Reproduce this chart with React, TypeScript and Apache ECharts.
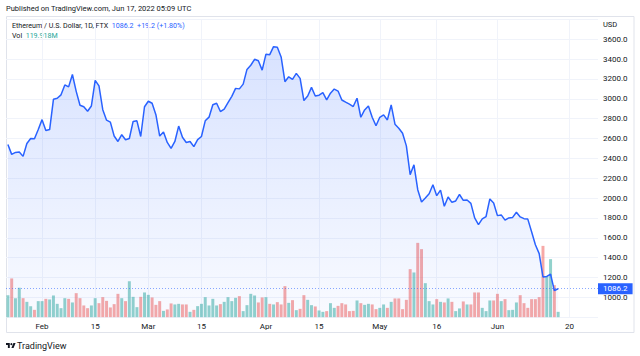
import React, { useEffect, useRef } from "react";
import * as echarts from "echarts";

// ---- data ----
const startDate = "2022-01-23";
const dayCount = 156; // Jan 23 .. Jun 27 (axis span)

const closes: number[] = [
  // Jan 23-31
  2540, 2440, 2460, 2465, 2420, 2550, 2600, 2598, 2690,
  // Feb
  2790, 2680, 2690, 2995, 3005, 3040, 3140, 3120, 3245, 3075,
  2935, 2920, 2875, 2928, 3185, 3130, 2890, 2785, 2765, 2625,
  2570, 2638, 2588, 2600, 2772, 2778, 2620, 2920,
  // Mar
  2975, 2955, 2840, 2625, 2665, 2560, 2500, 2570, 2725, 2612,
  2560, 2570, 2518, 2588, 2620, 2778, 2815, 2940, 2955, 2872,
  2897, 2962, 3025, 3105, 3100, 3148, 3296, 3338, 3398, 3383, 3289,
  // Apr
  3450, 3445, 3525, 3520, 3422, 3172, 3222, 3196, 3256, 3206,
  2982, 3028, 3115, 3028, 3036, 3062, 2990, 3056, 3098, 3078,
  2988, 2966, 2946, 2922, 3006, 2814, 2888, 2928, 2814, 2728,
  // May
  2814, 2838, 2787, 2938, 2744, 2704, 2653, 2526, 2236, 2335,
  2084, 1961, 2001, 2044, 2134, 2024, 2080, 1917, 2011, 1957,
  1971, 2036, 1977, 1980, 1946, 1800, 1733, 1790, 1814, 1991, 1951,
  // Jun 1-17
  1823, 1830, 1777, 1800, 1805, 1857, 1810, 1792, 1788, 1660,
  1530, 1440, 1205, 1210, 1232, 1067, 1086.2,
];

// volume in millions
const volumes: number[] = [
  497, 875, 429, 662, 429, 346, 249, 165, 362, 362,
  414, 400, 490, 301, 203, 429, 414, 332, 542, 429,
  264, 203, 264, 429, 316, 452, 368, 219, 294, 527,
  429, 362, 814, 459, 226, 459, 558, 504, 445, 278,
  362, 142, 174, 310, 287, 301, 287, 287, 120, 165,
  249, 301, 452, 264, 414, 264, 294, 346, 452, 362,
  436, 475, 136, 271, 527, 490, 332, 445, 452, 301,
  287, 339, 287, 701, 323, 384, 158, 188,
  497, 391, 271, 242, 151, 120, 136, 316, 210, 255,
  316, 287, 136, 142, 377, 316, 278, 301, 287, 181,
  210, 287, 210, 346, 423, 423, 181, 391, 1085, 1010,
  1679, 1537, 768, 362, 287, 407, 346, 332, 423, 346,
  136, 197, 355, 287, 287, 558, 558, 210, 136, 377,
  377, 527, 362, 407, 158, 165, 332, 497, 316, 210,
  407, 407, 452, 1611, 927, 1311, 723, 119.918,
];

const tickDates = [
  "2022-02-01", "2022-02-15", "2022-03-01", "2022-03-15", "2022-04-01",
  "2022-04-15", "2022-05-01", "2022-05-16", "2022-06-01", "2022-06-20",
];
const tickLabels = ["Feb", "15", "Mar", "15", "Apr", "15", "May", "16", "Jun", "20"];

const lastPrice = 1086.2;
const headerText = "Published on TradingView.com, Jun 17, 2022 05:09 UTC";
const symbolText = "Ethereum / U.S. Dollar, 1D, FTX";
const priceText = "1086.2";
const changeText = "+19.2 (+1.80%)";
const volLabel = "Vol";
const volText = "119.918M";

// ---- helpers ----
function buildDates(): string[] {
  const out: string[] = [];
  const [y, m, d] = startDate.split("-").map(Number);
  const t0 = Date.UTC(y, m - 1, d);
  for (let i = 0; i < dayCount; i++) {
    const dt = new Date(t0 + i * 86400000);
    out.push(dt.toISOString().slice(0, 10));
  }
  return out;
}

echarts.graphic.registerShape(
  "tvlogo",
  echarts.graphic.extendPath("M14 22H7V11H0V4h14v18z M28 22h-8l7.5-18h8z", {}) as any
);

const FONT = "Roboto, 'Liberation Sans', sans-serif";
const TEXT = "#131722";
const BLUE = "#2962ff";
const GREEN = "#26a69a";
const UP = "rgba(38,166,154,0.5)";
const DOWN = "rgba(239,83,80,0.5)";
const HFS = 7.5;
const LFS = 7.1;

export default function App() {
  const ref = useRef<HTMLDivElement>(null);

  useEffect(() => {
    if (!ref.current) return;
    const chart = echarts.init(ref.current, null, { renderer: "svg" });
    const dates = buildDates();
    const tickIdx = tickDates.map((d) => dates.indexOf(d));
    const halfSteps = Array.from({ length: dayCount * 2 + 1 }, (_, j) => String(j));

    const volData = volumes.map((v, i) => ({
      value: v,
      itemStyle: { color: i === 0 || closes[i] >= closes[i - 1] ? UP : DOWN },
    }));

    chart.setOption({
      animation: false,
      backgroundColor: "#ffffff",
      textStyle: { fontFamily: FONT },
      grid: { left: 6, right: 42, top: 19.4, bottom: 38.85, containLabel: false },
      xAxis: [
        {
          type: "category",
          data: dates,
          boundaryGap: true,
          axisLine: { show: false },
          axisTick: { show: false },
          splitLine: { show: false },
          axisLabel: {
            interval: (i: number) => tickIdx.includes(i),
            formatter: (v: string) => tickLabels[tickDates.indexOf(v)] ?? "",
            color: TEXT,
            fontSize: 8,
            fontFamily: FONT,
            margin: 5,
          },
        },
        {
          type: "category",
          data: halfSteps,
          boundaryGap: false,
          axisLine: { show: false },
          axisTick: { show: false },
          axisLabel: { show: false },
          splitLine: {
            show: true,
            interval: (j: number) => j % 2 === 1 && tickIdx.includes((j - 1) / 2),
            lineStyle: { color: "#f0f3fa", width: 1 },
          },
        },
      ],
      yAxis: [
        {
          type: "value",
          position: "right",
          min: 800,
          max: 3800,
          interval: 200,
          axisLine: { show: false },
          axisTick: { show: false },
          axisLabel: {
            formatter: (v: number) => (v >= 1000 && v <= 3600 ? v.toFixed(1) : ""),
            color: TEXT,
            fontSize: 8,
            fontFamily: FONT,
            margin: 5,
          },
          splitLine: { lineStyle: { color: "#f0f3fa", width: 1 } },
        },
        {
          type: "value",
          min: 0,
          max: 6730,
          show: false,
          splitLine: { show: false },
        },
      ],
      series: [
        {
          type: "bar",
          xAxisIndex: 0,
          yAxisIndex: 1,
          data: volData,
          barCategoryGap: "22%",
          z: 1,
        },
        {
          type: "line",
          xAxisIndex: 0,
          yAxisIndex: 0,
          data: closes,
          symbol: "none",
          lineStyle: { color: BLUE, width: 1.5 },
          areaStyle: {
            color: new echarts.graphic.LinearGradient(0, 0, 0, 1, [
              { offset: 0, color: "rgba(41,98,255,0.26)" },
              { offset: 1, color: "rgba(41,98,255,0.04)" },
            ]),
          },
          z: 3,
          markLine: {
            silent: true,
            symbol: ["none", "none"],
            data: [{ yAxis: lastPrice }],
            lineStyle: { color: "rgba(41,98,255,0.55)", type: [1, 2], width: 1 },
            label: {
              show: true,
              position: "end",
              distance: 0,
              formatter: () => priceText,
              backgroundColor: BLUE,
              color: "#ffffff",
              fontSize: 8,
              fontFamily: FONT,
              padding: [2, 5, 1, 5],
            },
          },
        },
      ],
      graphic: [
        {
          type: "rect",
          shape: { x: 6.5, y: 16.5, width: 627.5, height: 316 },
          style: { fill: "none", stroke: "#e0e3eb", lineWidth: 1 },
          silent: true,
        },
        { type: "text", x: 6, y: 4, style: { text: headerText, fill: TEXT, fontSize: HFS, fontFamily: FONT } },
        {
          type: "text",
          x: 12,
          y: 22,
          style: {
            text: `{s|${symbolText}}  {p|${priceText}}  {p|${changeText}}`,
            fontSize: LFS,
            fontFamily: FONT,
            fill: TEXT,
            rich: {
              s: { fill: TEXT, fontSize: LFS, fontFamily: FONT },
              p: { fill: BLUE, fontSize: LFS, fontFamily: FONT },
            },
          },
        },
        {
          type: "text",
          x: 12,
          y: 32,
          style: {
            text: `{s|${volLabel}}  {g|${volText}}`,
            fontSize: LFS,
            fontFamily: FONT,
            fill: TEXT,
            rich: {
              s: { fill: TEXT, fontSize: LFS, fontFamily: FONT },
              g: { fill: GREEN, fontSize: LFS, fontFamily: FONT },
            },
          },
        },
        { type: "text", x: 603, y: 20, style: { text: "USD", fill: TEXT, fontSize: HFS, fontFamily: FONT } },
        {
          type: "group",
          x: 6,
          y: 342,
          children: [
            { type: "tvlogo", x: 0, y: 0, scaleX: 0.27, scaleY: 0.27, style: { fill: TEXT } },
            { type: "circle", shape: { cx: 20 * 0.27, cy: 8 * 0.27, r: 4 * 0.27 }, style: { fill: TEXT } },
          ],
        },
        { type: "text", x: 17, y: 341, style: { text: "TradingView", fill: TEXT, fontSize: 9, fontFamily: FONT } },
      ],
    });

    return () => chart.dispose();
  }, []);

  return <div ref={ref} style={{ width: 640, height: 356, position: "absolute", left: 0, top: 0 }} />;
}
